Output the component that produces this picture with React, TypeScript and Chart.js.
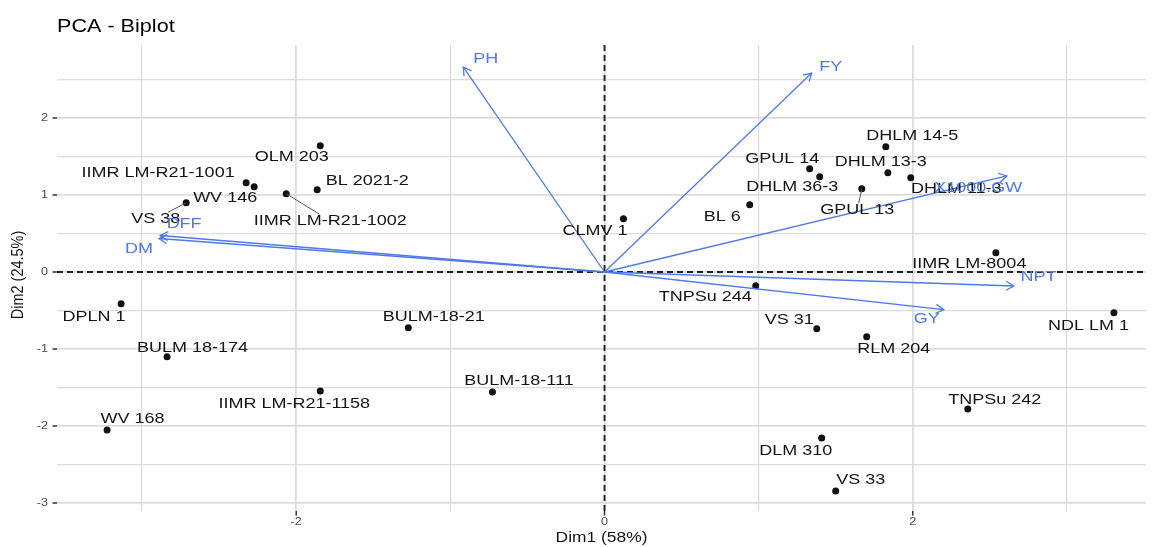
import React, { useEffect, useRef } from "react";
import { Chart, registerables } from "chart.js";

Chart.register(...registerables);

// ---------- data ----------
const indNames = [
  "IIMR LM-R21-1001", "WV 146", "IIMR LM-R21-1002", "BL 2021-2", "OLM 203", "VS 38",
  "CLMV 1", "BL 6", "GPUL 14", "DHLM 36-3", "GPUL 13", "DHLM 14-5", "DHLM 13-3",
  "DHLM 11-3", "IIMR LM-8004", "NDL LM 1", "TNPSu 244", "VS 31", "RLM 204",
  "TNPSu 242", "DLM 310", "VS 33", "DPLN 1", "BULM 18-174", "WV 168",
  "IIMR LM-R21-1158", "BULM-18-21", "BULM-18-111",
];
const indX = [
  -2.325, -2.273, -2.065, -1.864, -1.844, -2.714,
  0.123, 0.942, 1.331, 1.396, 1.669, 1.825, 1.838,
  1.987, 2.539, 3.305, 0.981, 1.377, 1.701,
  2.357, 1.409, 1.5, -3.136, -2.838, -3.227,
  -1.844, -1.273, -0.727,
];
const indY = [
  1.159, 1.107, 1.016, 1.068, 1.64, 0.899,
  0.691, 0.873, 1.341, 1.237, 1.081, 1.627, 1.289,
  1.224, 0.25, -0.53, -0.179, -0.738, -0.842,
  -1.778, -2.155, -2.843, -0.413, -1.102, -2.051,
  -1.544, -0.725, -1.557,
];

const varNames = ["PH", "FY", "X1000.GW", "NPT", "GY", "DFF", "DM"];
const varX = [-0.916, 1.344, 2.61, 2.656, 2.201, -2.883, -2.89];
const varY = [2.662, 2.584, 1.247, -0.182, -0.49, 0.474, 0.435];

const xMajorTicks = [-2, 0, 2];
const xMinorTicks = [-3, -1, 1, 3];
const yMajorTicks = [-3, -2, -1, 0, 1, 2];
const yMinorTicks = [-2.5, -1.5, -0.5, 0.5, 1.5, 2.5];

const titleText = "PCA - Biplot";
const xTitleText = "Dim1 (58%)";
const yTitleText = "Dim2 (24.5%)";

// ---------- label layout (pixel offsets from the mark, repel-like) ----------
const indLabelOffset: [number, number][] = [
  [-88, -10], [-29, 11.5], [44, 27], [50, -9], [-28.5, 11.5], [-30.5, 16],
  [-28.5, 12], [-27.5, 12.5], [-27.5, -10], [-27.5, 10.5], [-4.5, 21], [26.5, -10.5], [-7, -10.5],
  [45.5, 11.5], [-26.5, 11], [-25.5, 13], [-50.5, 11], [-27.5, -9], [27, 12],
  [27, -9], [-26, 13], [25, -11], [-27, 13], [25.5, -9], [25.5, -11],
  [-26, 13], [25.5, -11], [26.5, -11],
];
const indLabelSegment = [
  false, false, true, false, false, true,
  false, false, false, false, true, false, false,
  false, false, false, false, false, false,
  false, false, false, false, false, false,
  false, false, false,
];
const varLabelOffset: [number, number][] = [
  [22.5, -8.5], [19, -6], [-28.5, 12], [24.5, -9], [-17, 9], [24, -11.5], [-20, 10.5],
];

// ---------- styles ----------
const FONT = '"Liberation Sans", Arial, Helvetica, sans-serif';
const SX = 1.2;
const VAR_COLOR = "#5078e6";
const GRID_COLOR = "#dcdcdc";
const TEXT_COLOR = "#141414";
const TICK_COLOR = "#4d4d4d";

function drawText(
  ctx: CanvasRenderingContext2D,
  text: string,
  x: number,
  y: number,
  size: number,
  color: string,
  align: CanvasTextAlign = "center",
  rotate = 0
) {
  ctx.save();
  ctx.translate(x, y);
  ctx.scale(SX, 1);
  if (rotate) ctx.rotate(rotate);
  ctx.font = `${size}px ${FONT}`;
  ctx.fillStyle = color;
  ctx.textAlign = align;
  ctx.textBaseline = "middle";
  ctx.fillText(text, 0, 0);
  ctx.restore();
}

function textWidth(ctx: CanvasRenderingContext2D, text: string, size: number) {
  ctx.save();
  ctx.font = `${size}px ${FONT}`;
  const w = ctx.measureText(text).width * SX;
  ctx.restore();
  return w;
}

const biplotPlugin = {
  id: "biplot",
  beforeDatasetsDraw(chart: any) {
    const { ctx, chartArea, scales } = chart;
    const x0 = scales.x.getPixelForValue(0);
    const y0 = scales.y.getPixelForValue(0);
    ctx.save();
    ctx.strokeStyle = "#222";
    ctx.lineWidth = 1.9;
    ctx.setLineDash([6, 4]);
    ctx.beginPath();
    ctx.moveTo(chartArea.left, y0);
    ctx.lineTo(chartArea.right, y0);
    ctx.moveTo(x0, chartArea.top);
    ctx.lineTo(x0, chartArea.bottom);
    ctx.stroke();
    ctx.restore();
  },
  afterDatasetsDraw(chart: any) {
    const { ctx, scales } = chart;
    const sx = scales.x;
    const sy = scales.y;
    const ox = sx.getPixelForValue(0);
    const oy = sy.getPixelForValue(0);

    // arrowheads
    ctx.save();
    ctx.strokeStyle = VAR_COLOR;
    ctx.lineWidth = 1.3;
    varNames.forEach((_, i) => {
      const tx = sx.getPixelForValue(varX[i]);
      const ty = sy.getPixelForValue(varY[i]);
      const a = Math.atan2(ty - oy, tx - ox);
      const L = 9;
      const h = Math.PI / 6;
      ctx.beginPath();
      ctx.moveTo(tx - L * Math.cos(a - h), ty - L * Math.sin(a - h));
      ctx.lineTo(tx, ty);
      ctx.lineTo(tx - L * Math.cos(a + h), ty - L * Math.sin(a + h));
      ctx.stroke();
    });
    ctx.restore();

    // individual labels (+ repel segments)
    const LS = 15;
    indNames.forEach((name, i) => {
      const px = sx.getPixelForValue(indX[i]);
      const py = sy.getPixelForValue(indY[i]);
      const [dx, dy] = indLabelOffset[i];
      const cx = px + dx;
      const cy = py + dy;
      if (indLabelSegment[i]) {
        const hw = textWidth(ctx, name, LS) / 2;
        const hh = 6.5;
        const fx = Math.abs(dx) > 0 ? (Math.abs(dx) - hw) / Math.abs(dx) : 0;
        const fy = Math.abs(dy) > 0 ? (Math.abs(dy) - hh) / Math.abs(dy) : 0;
        const f = Math.max(0, fx, fy);
        ctx.save();
        ctx.strokeStyle = "#555";
        ctx.lineWidth = 1;
        ctx.beginPath();
        ctx.moveTo(px, py);
        ctx.lineTo(px + dx * f, py + dy * f);
        ctx.stroke();
        ctx.restore();
      }
      drawText(ctx, name, cx, cy, LS, TEXT_COLOR);
    });

    // variable labels
    varNames.forEach((name, i) => {
      const tx = sx.getPixelForValue(varX[i]);
      const ty = sy.getPixelForValue(varY[i]);
      const [dx, dy] = varLabelOffset[i];
      drawText(ctx, name, tx + dx, ty + dy, 15, VAR_COLOR);
    });
  },
  afterDraw(chart: any) {
    const { ctx, chartArea, scales } = chart;
    const sx = scales.x;
    const sy = scales.y;

    // title
    drawText(ctx, titleText, chartArea.left, 27, 18, "#000", "left");

    // tick marks + labels
    ctx.save();
    ctx.strokeStyle = "#333";
    ctx.lineWidth = 1.5;
    ctx.beginPath();
    xMajorTicks.forEach((v) => {
      const x = sx.getPixelForValue(v);
      ctx.moveTo(x, chartArea.bottom);
      ctx.lineTo(x, chartArea.bottom + 4.5);
    });
    yMajorTicks.forEach((v) => {
      const y = sy.getPixelForValue(v);
      ctx.moveTo(chartArea.left - 4.5, y);
      ctx.lineTo(chartArea.left, y);
    });
    ctx.stroke();
    ctx.restore();

    xMajorTicks.forEach((v) => {
      drawText(ctx, String(v), sx.getPixelForValue(v), chartArea.bottom + 11.5, 10.5, TICK_COLOR);
    });
    yMajorTicks.forEach((v) => {
      drawText(ctx, String(v), chartArea.left - 9, sy.getPixelForValue(v), 10.5, TICK_COLOR, "right");
    });

    // axis titles
    drawText(ctx, xTitleText, (chartArea.left + chartArea.right) / 2, 538, 14.5, TEXT_COLOR);
    drawText(ctx, yTitleText, 18, 275, 14.5, TEXT_COLOR, "center", -Math.PI / 2);
  },
};

export default function App() {
  const canvasRef = useRef<HTMLCanvasElement | null>(null);

  useEffect(() => {
    const canvas = canvasRef.current;
    if (!canvas) return;

    const xMajorSet = new Set(xMajorTicks);
    const yMajorSet = new Set(yMajorTicks);
    const xAll = [...xMinorTicks, ...xMajorTicks].sort((a, b) => a - b);
    const yAll = [...yMinorTicks, ...yMajorTicks].sort((a, b) => a - b);

    const arrowSets = varNames.map((name, i) => ({
      type: "scatter" as const,
      label: name,
      data: [
        { x: 0, y: 0 },
        { x: varX[i], y: varY[i] },
      ],
      showLine: true,
      borderColor: VAR_COLOR,
      borderWidth: 1.3,
      pointRadius: 0,
      fill: false,
      order: 1,
    }));

    const chart = new Chart(canvas, {
      type: "scatter",
      data: {
        datasets: [
          {
            label: "Individuals",
            data: indNames.map((_, i) => ({ x: indX[i], y: indY[i] })),
            backgroundColor: "#111",
            borderWidth: 0,
            pointRadius: 3.5,
            order: 2,
          },
          ...arrowSets,
        ],
      },
      options: {
        animation: false,
        responsive: false,
        events: [],
        layout: { padding: { top: 45, right: 6, left: 0, bottom: 0 } },
        plugins: {
          legend: { display: false },
          tooltip: { enabled: false },
          title: { display: false },
        },
        scales: {
          x: {
            type: "linear",
            min: -3.552,
            max: 3.513,
            afterBuildTicks: (scale: any) => {
              scale.ticks = xAll.map((v) => ({ value: v }));
            },
            afterFit: (scale: any) => {
              scale.height = 36;
            },
            ticks: { display: false },
            border: { display: false },
            grid: {
              drawTicks: false,
              color: GRID_COLOR,
              lineWidth: (c: any) => (xMajorSet.has(c.tick?.value) ? 1.8 : 1.2),
            },
          },
          y: {
            type: "linear",
            min: -3.104,
            max: 2.948,
            afterBuildTicks: (scale: any) => {
              scale.ticks = yAll.map((v) => ({ value: v }));
            },
            afterFit: (scale: any) => {
              scale.width = 57;
            },
            ticks: { display: false },
            border: { display: false },
            grid: {
              drawTicks: false,
              color: GRID_COLOR,
              lineWidth: (c: any) => (yMajorSet.has(c.tick?.value) ? 1.8 : 1.2),
            },
          },
        },
      },
      plugins: [biplotPlugin],
    });

    return () => chart.destroy();
  }, []);

  return (
    <div style={{ position: "fixed", left: 0, top: 0, width: 1152, height: 547, background: "#fff" }}>
      <canvas ref={canvasRef} width={1152} height={547} style={{ display: "block" }} />
    </div>
  );
}
